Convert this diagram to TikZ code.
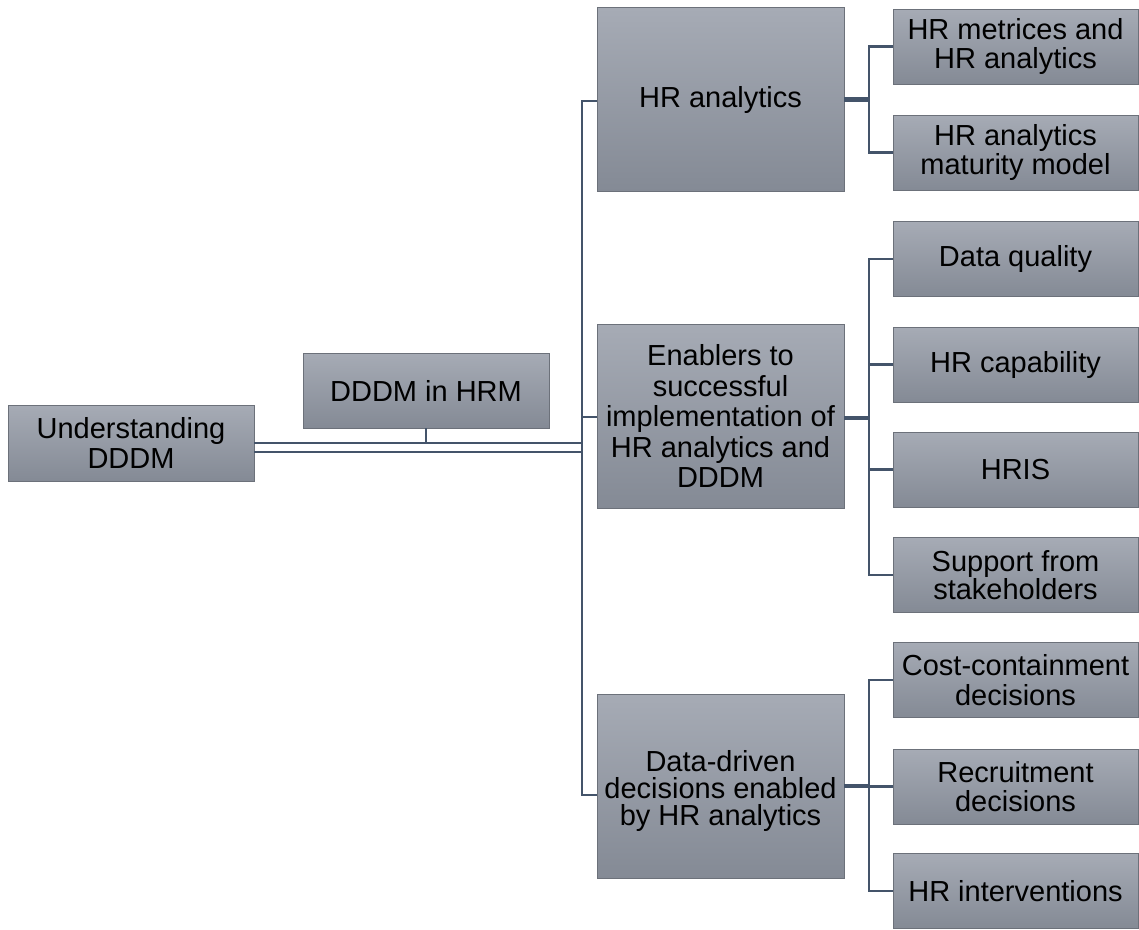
\documentclass[tikz,border=0pt]{standalone}
\usepackage{fontspec}
\setmainfont{Liberation Sans}
\definecolor{boxtop}{RGB}{166,171,181}
\definecolor{boxbot}{RGB}{132,138,149}
\definecolor{boxedge}{RGB}{108,113,122}
\definecolor{linkc}{RGB}{68,84,106}
\begin{document}
\begin{tikzpicture}[x=1pt,y=-1pt,
  box/.style={draw=boxedge, line width=0.8pt, top color=boxtop, bottom color=boxbot,
    inner sep=0pt, outer sep=0pt, align=center, text=black,
    font=\fontsize{29}{29.5}\selectfont},
  leaf/.style={box, minimum width=245pt, minimum height=75pt},
  branch/.style={box, minimum width=247pt, minimum height=184pt},
  link/.style={draw=linkc, line width=2.8pt},
  heavylink/.style={draw=linkc, line width=4.5pt}]
\useasboundingbox (0,0) rectangle (1139,929);

% root and second-level boxes
\node[box, minimum width=246pt, minimum height=76pt] (und) at (131,443) {Understanding\\DDDM};
\node[box, minimum width=246pt, minimum height=75pt] (hrm) at (426,390.5) {DDDM in HRM};

\node[branch] (hra) at (720.5,99.5) {HR analytics};
\node[branch, font=\fontsize{29}{30.5}\selectfont] (ena) at (720.5,416) {Enablers to\\successful\\implementation of\\HR analytics and\\DDDM};
\node[branch] (ddd) at (720.5,786) {};
\node[align=center, inner sep=0pt, font=\fontsize{29}{27}\selectfont] (dddtext) at (720.5,791) {Data-driven\\decisions enabled\\by HR analytics};

% leaves
\node[leaf] (met) at (1015.5,46.5) {HR metrices and\\HR analytics};
\node[leaf] (mat) at (1015.5,152.5) {HR analytics\\maturity model};
\node[leaf] (dq) at (1015.5,259) {Data quality};
\node[leaf] (cap) at (1015.5,364.5) {HR capability};
\node[leaf] (hris) at (1015.5,469.5) {HRIS};
\node[leaf, font=\fontsize{29}{27.5}\selectfont] (sup) at (1015.5,575) {Support from\\stakeholders};
\node[leaf] (cost) at (1015.5,680) {Cost-containment\\decisions};
\node[leaf] (rec) at (1015.5,786.5) {Recruitment\\decisions};
\node[leaf] (int) at (1015.5,891) {HR interventions};

% junction points
\coordinate (trunk) at (582,0);
\coordinate (fork) at (869,0);

% double link from the root to the trunk, with the branch down from DDDM in HRM
\draw[link] (und.east) -- (und.east -| trunk);
\draw[link] ([yshift=-9pt]und.east) -- ([yshift=-9pt]und.east -| trunk);
\draw[link] (hrm.south) -- (hrm.south |- und.east);

% trunk to the three branches
\draw[link] (hra.west |- 0,101) -- (trunk |- 0,101) -- (trunk |- 0,795) -- (ddd.west |- 0,795);
\draw[link] (ena.west |- 0,417) -- (trunk |- 0,417);

% HR analytics fork
\draw[heavylink] (hra.east) -- (hra.east -| fork);
\draw[link] (met.west) -- (met.west -| fork) -- (mat.west -| fork) -- (mat.west);

% enablers fork
\draw[heavylink] ([yshift=-2pt]ena.east) -- ([yshift=-2pt]ena.east -| fork);
\draw[link] (dq.west) -- (dq.west -| fork) -- (sup.west -| fork) -- (sup.west);
\draw[link] (cap.west) -- (cap.west -| fork);
\draw[link] (hris.west) -- (hris.west -| fork);

% decisions fork
\draw[heavylink] (ddd.east) -- (ddd.east -| fork);
\draw[link] (cost.west) -- (cost.west -| fork) -- (int.west -| fork) -- (int.west);
\draw[link] (rec.west) -- (rec.west -| fork);
\end{tikzpicture}
\end{document}
